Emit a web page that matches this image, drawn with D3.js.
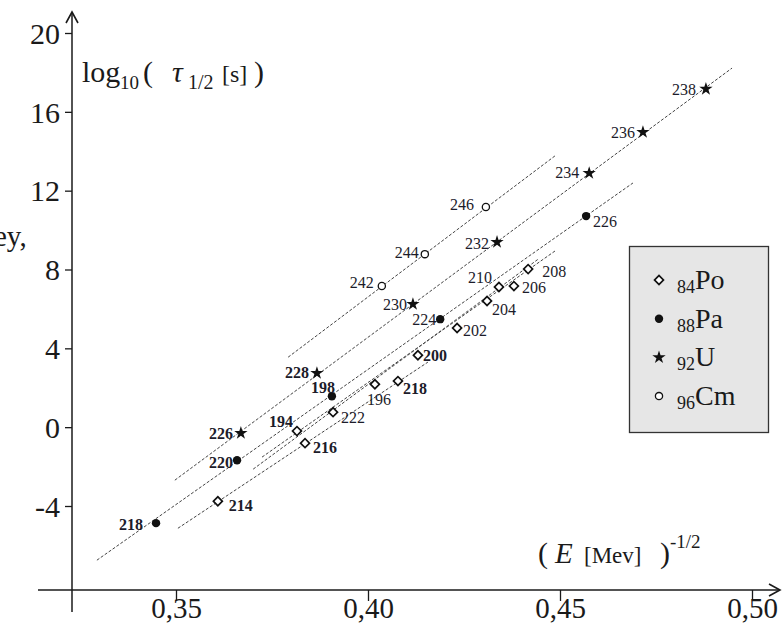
<!DOCTYPE html>
<html><head><meta charset="utf-8">
<script src="https://cdn.jsdelivr.net/npm/d3@7"></script>
<style>body{margin:0;background:#fff}svg{display:block}</style>
</head><body>
<svg id="c" width="782" height="626"></svg>
<script>
// ---- data ----
const xTicks = [0.35, 0.40, 0.45, 0.50];
const xTickLabels = ["0,35", "0,40", "0,45", "0,50"];
const yTicks = [-4, 0, 4, 8, 12, 16, 20];
const yTickLabels = ["-4", "0", "4", "8", "12", "16", "20"];
// [x, y, massNumber]
const poPoints = [[0.3609,-3.76,"214"],[0.3836,-0.81,"216"],[0.3815,-0.20,"194"],[0.3909,0.76,"222"],[0.4018,2.18,"196"],[0.4078,2.34,"218"],[0.4130,3.65,"200"],[0.4232,5.03,"202"],[0.4310,6.40,"204"],[0.4341,7.11,"210"],[0.4380,7.16,"206"],[0.4417,8.02,"208"]];
const paPoints = [[0.3448,-4.87,"218"],[0.3659,-1.68,"220"],[0.3906,1.57,"198"],[0.4188,5.48,"224"],[0.4568,10.71,"226"]];
const uPoints  = [[0.3669,-0.30,"226"],[0.3867,2.74,"228"],[0.4117,6.24,"230"],[0.4336,9.39,"232"],[0.4576,12.89,"234"],[0.4716,14.97,"236"],[0.4880,17.16,"238"]];
const cmPoints = [[0.4036,7.16,"242"],[0.4148,8.78,"244"],[0.4307,11.17,"246"]];
// fit lines [x1,y1,x2,y2]
const fitLines = [[0.3792,3.55,0.4490,13.81],[0.3497,-2.69,0.4948,18.22],[0.3294,-6.75,0.4690,12.39],[0.3724,-1.52,0.4490,8.98],[0.3701,-2.13,0.4445,8.55],[0.3505,-5.13,0.4156,3.30]];
const legendItems = [["84","Po"],["88","Pa"],["92","U"],["96","Cm"]];

// ---- label placement (dx, dy, anchor, bold) ----
const poLab = {"214":[11,10,"start",1],"216":[8,10,"start",1],"194":[-4,-4,"end",1],"222":[8,11,"start",0],"196":[4,21,"middle",0],"218":[5,13,"start",1],"200":[5,6,"start",1],"202":[6,8,"start",0],"204":[5,14,"start",0],"210":[-7,-4,"end",0],"206":[8,7,"start",0],"208":[14,8,"start",0]};
const paLab = {"218":[-13,7,"end",1],"220":[-4,8,"end",1],"198":[-9,-3,"middle",1],"224":[-4,6,"end",0],"226":[7,11,"start",0]};
const uLab = {"226":[-8,6,"end",1],"228":[-8,5,"end",1],"230":[-6,6,"end",0],"232":[-8,7,"end",0],"234":[-10,5,"end",0],"236":[-8,6,"end",0],"238":[-10,6,"end",0]};
const cmLab = {"242":[-8,2,"end",0],"244":[-6,4,"end",0],"246":[-12,3,"end",0]};

const svg = d3.select("#c");
const F = "'Liberation Serif','DejaVu Serif',serif";
const x = d3.scaleLinear().domain([0.35,0.50]).range([176,752]);
const y = d3.scaleLinear().domain([-4,20]).range([506,33]);
const axX = 72, axY = 590;
const ink = "#1a1a1a";

// axes lines
svg.append("line").attr("x1",axX).attr("x2",axX).attr("y1",612).attr("y2",13).attr("stroke",ink).attr("stroke-width",1.5);
svg.append("path").attr("d",`M${axX-6},${23} L${axX},${12} L${axX+6},${23}`).attr("fill","none").attr("stroke",ink).attr("stroke-width",1.6);
svg.append("line").attr("x1",38).attr("x2",779).attr("y1",axY).attr("y2",axY).attr("stroke",ink).attr("stroke-width",1.5);
svg.append("path").attr("d",`M${769},${axY-6} L${780},${axY} L${769},${axY+6}`).attr("fill","none").attr("stroke",ink).attr("stroke-width",1.6);

// y ticks
const gy = svg.append("g").attr("transform",`translate(${axX},0)`)
  .call(d3.axisLeft(y).tickValues(yTicks).tickSize(7).tickPadding(5).tickFormat((d,i)=>yTickLabels[i]));
gy.select(".domain").remove();
gy.selectAll("line").attr("stroke",ink).attr("stroke-width",1.3);
gy.selectAll("text").attr("font-family",F).attr("font-size",30).attr("fill",ink).attr("dy","0.34em");

// x ticks
const gx = svg.append("g").attr("transform",`translate(0,${axY})`)
  .call(d3.axisBottom(x).tickValues(xTicks).tickSize(11).tickFormat((d,i)=>xTickLabels[i]));
gx.select(".domain").remove();
gx.selectAll("line").attr("stroke",ink).attr("stroke-width",1.3);
gx.selectAll("text").attr("font-family",F).attr("font-size",29).attr("fill",ink).attr("y",28).attr("dy",0);

// fit lines
svg.append("g").selectAll("line").data(fitLines).join("line")
  .attr("x1",d=>x(d[0])).attr("y1",d=>y(d[1])).attr("x2",d=>x(d[2])).attr("y2",d=>y(d[3]))
  .attr("stroke","#444").attr("stroke-width",1).attr("stroke-dasharray","3,1.8");

// symbols
const star = d3.symbol().type(d3.symbolStar).size(55);
const diamond = d3.symbol().type(d3.symbolSquare).size(40);
function drawSym(g, kind, cx, cy) {
  if (kind==="Po") g.append("path").attr("d",diamond()).attr("transform",`translate(${cx},${cy}) rotate(45)`).attr("fill","#fff").attr("stroke","#111").attr("stroke-width",1.7);
  else if (kind==="Pa") g.append("circle").attr("cx",cx).attr("cy",cy).attr("r",4.2).attr("fill","#111");
  else if (kind==="U") g.append("path").attr("d",star()).attr("transform",`translate(${cx},${cy})`).attr("fill","#111");
  else g.append("circle").attr("cx",cx).attr("cy",cy).attr("r",3.6).attr("fill","#fff").attr("stroke","#111").attr("stroke-width",1.3);
}
const pg = svg.append("g");
const lg = svg.append("g");
function series(pts, kind, lab) {
  pts.forEach(p => {
    const cx = x(p[0]), cy = y(p[1]);
    drawSym(pg, kind, cx, cy);
    const L = lab[p[2]];
    lg.append("text").attr("x",cx+L[0]).attr("y",cy+L[1]).attr("text-anchor",L[2])
      .attr("font-family",F).attr("font-size",16).attr("font-weight",L[3]?"bold":"normal")
      .attr("fill","#1c1c2a").text(p[2]);
  });
}
series(poPoints,"Po",poLab);
series(paPoints,"Pa",paLab);
series(uPoints,"U",uLab);
series(cmPoints,"Cm",cmLab);

// axis titles
const yt = svg.append("g").attr("font-family",F).attr("fill",ink);
[["log",82,82,30,"normal"],["10",120,89,19,"normal"],["(",143,82,30,"normal"],["\u03C4",172,82,30,"italic"],["1/2",188,89,20,"normal"],["[s]",222,82,24,"normal"],[")",254,82,30,"normal"]]
  .forEach(t => yt.append("text").attr("x",t[1]).attr("y",t[2]).attr("font-size",t[3]).attr("font-style",t[4]).text(t[0]));

const xt = svg.append("g").attr("font-family",F).attr("fill",ink);
[["(",538,563,30,"normal"],["E",555,563,29,"italic"],["[Mev]",584,563,23,"normal"],[")",660,563,30,"normal"],["-1/2",670,548,19,"normal"]]
  .forEach(t => xt.append("text").attr("x",t[1]).attr("y",t[2]).attr("font-size",t[3]).attr("font-style",t[4]).text(t[0]));

// text cut off at the left edge, as in the reference
svg.append("text").attr("x",-6).attr("y",246).attr("font-family",F).attr("font-size",29).attr("fill",ink).text("ey,");

// legend
svg.append("rect").attr("x",629.5).attr("y",246.5).attr("width",139).attr("height",186)
  .attr("fill","#e6e6e6").attr("stroke","#333").attr("stroke-width",1.3);
const kinds = ["Po","Pa","U","Cm"];
legendItems.forEach((it,i) => {
  const cy = 280 + i*38.7;
  drawSym(svg, kinds[i], 659, cy);
  const t = svg.append("text").attr("x",677).attr("y",cy+9).attr("font-family",F).attr("font-size",28).attr("fill",ink);
  t.append("tspan").attr("font-size",18).attr("dy",4).text(it[0]);
  t.append("tspan").attr("dy",-4).text(it[1]);
});
</script>
</body></html>
